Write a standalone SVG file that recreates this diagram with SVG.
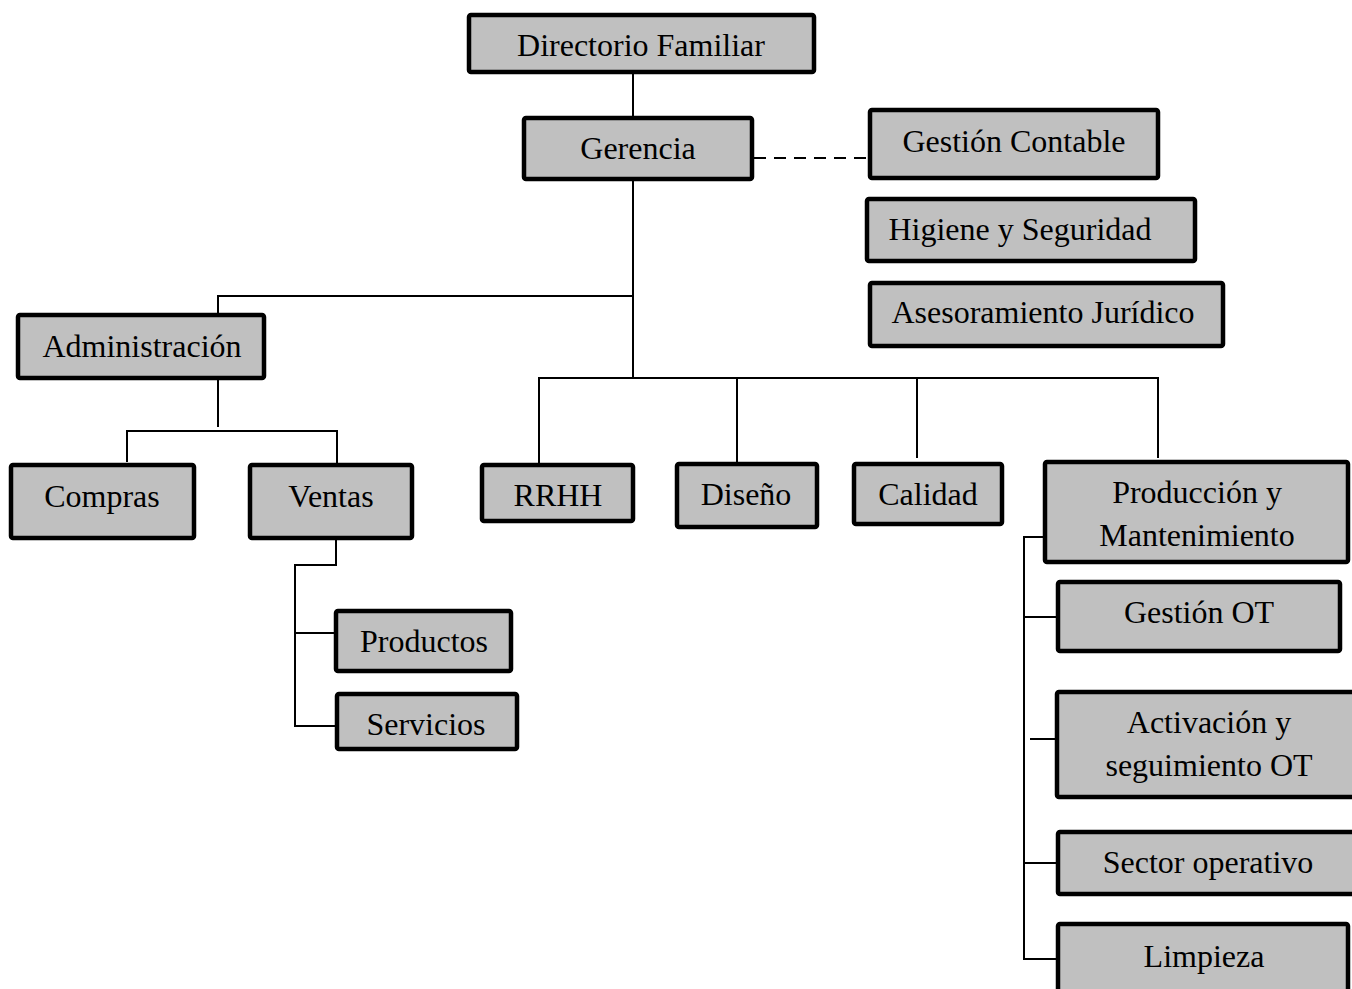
<svg xmlns="http://www.w3.org/2000/svg" width="1352" height="989" viewBox="0 0 1352 989">
<style>
.box{fill:#c0c0c0;stroke:#000;stroke-width:4.5;rx:2}
.t{font-family:"Liberation Serif","Times New Roman",serif;font-size:32px;fill:#000;text-anchor:middle}
.c{fill:none;stroke:#000;stroke-width:2}
.d{fill:none;stroke:#000;stroke-width:2;stroke-dasharray:12,8}
</style>
<rect width="1352" height="989" fill="#fff"/>
<g id="connectors">
<path class="c" d="M633 74V116"/>
<path class="d" d="M754 158H868"/>
<path class="c" d="M633 181V377"/>
<path class="c" d="M633 296H218V313"/>
<path class="c" d="M218 380V427"/>
<path class="c" d="M127 462V431H337V463"/>
<path class="c" d="M539 463V378H1158V458"/>
<path class="c" d="M737 378V463"/>
<path class="c" d="M917 378V458"/>
<path class="c" d="M336 540V565H295V726H335"/>
<path class="c" d="M295 633H334"/>
<path class="c" d="M1043 537H1024V959H1057"/>
<path class="c" d="M1024 617H1056"/>
<path class="c" d="M1030 739H1055"/>
<path class="c" d="M1024 863H1057"/>
</g>
<g id="directorio"><rect class="box" x="469" y="15" width="345" height="57"/><text class="t" x="641" y="56">Directorio Familiar</text></g>
<g id="gerencia"><rect class="box" x="524" y="118" width="228" height="61"/><text class="t" x="638" y="159">Gerencia</text></g>
<g id="gestion-contable"><rect class="box" x="870" y="110" width="288" height="68"/><text class="t" x="1014" y="152">Gestión Contable</text></g>
<g id="higiene"><rect class="box" x="867" y="199" width="328" height="62"/><text class="t" x="1020" y="240">Higiene y Seguridad</text></g>
<g id="asesoramiento"><rect class="box" x="870" y="283" width="353" height="63"/><text class="t" x="1043" y="323">Asesoramiento Jurídico</text></g>
<g id="administracion"><rect class="box" x="18" y="315" width="246" height="63"/><text class="t" x="142" y="357">Administración</text></g>
<g id="compras"><rect class="box" x="11" y="465" width="183" height="73"/><text class="t" x="102" y="507">Compras</text></g>
<g id="ventas"><rect class="box" x="250" y="465" width="162" height="73"/><text class="t" x="331" y="507">Ventas</text></g>
<g id="rrhh"><rect class="box" x="482" y="465" width="151" height="56"/><text class="t" x="558" y="506">RRHH</text></g>
<g id="diseno"><rect class="box" x="677" y="464" width="140" height="63"/><text class="t" x="746" y="505">Diseño</text></g>
<g id="calidad"><rect class="box" x="854" y="464" width="148" height="60"/><text class="t" x="928" y="505">Calidad</text></g>
<g id="produccion"><rect class="box" x="1045" y="462" width="303" height="100"/><text class="t" x="1197" y="503">Producción y</text><text class="t" x="1197" y="546">Mantenimiento</text></g>
<g id="gestion-ot"><rect class="box" x="1058" y="582" width="282" height="69"/><text class="t" x="1199" y="623">Gestión OT</text></g>
<g id="activacion"><rect class="box" x="1057" y="692" width="300" height="105"/><text class="t" x="1209" y="733">Activación y</text><text class="t" x="1209" y="776">seguimiento OT</text></g>
<g id="sector"><rect class="box" x="1058" y="832" width="300" height="62"/><text class="t" x="1208" y="873">Sector operativo</text></g>
<g id="limpieza"><rect class="box" x="1058" y="924" width="290" height="70"/><text class="t" x="1204" y="967">Limpieza</text></g>
<g id="productos"><rect class="box" x="336" y="611" width="175" height="60"/><text class="t" x="424" y="652">Productos</text></g>
<g id="servicios"><rect class="box" x="337" y="694" width="180" height="55"/><text class="t" x="426" y="735">Servicios</text></g>
</svg>
